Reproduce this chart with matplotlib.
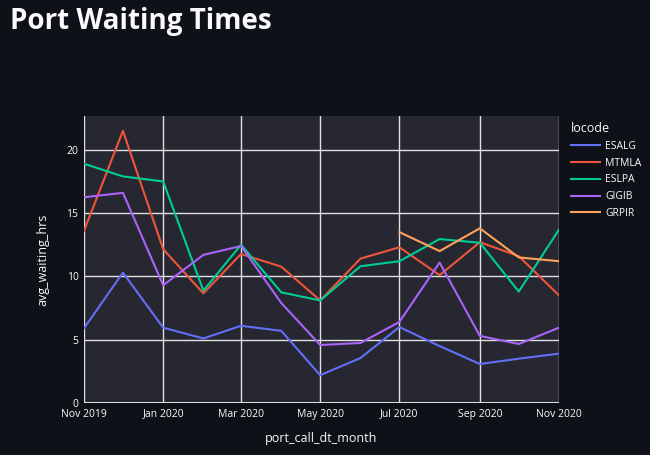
import matplotlib
matplotlib.use("Agg")
import matplotlib.pyplot as plt
import matplotlib.dates as mdates
import numpy as np
import datetime as dt

months = ["2019-11", "2019-12", "2020-01", "2020-02", "2020-03", "2020-04", "2020-05",
          "2020-06", "2020-07", "2020-08", "2020-09", "2020-10", "2020-11"]
esalg = [5.9, 10.3, 5.95, 5.1, 6.1, 5.7, 2.2, 3.55, 6.0, 4.5, 3.08, 3.5, 3.9]
mtmla = [13.6, 21.5, 12.15, 8.66, 11.77, 10.77, 8.1, 11.4, 12.3, 10.1, 12.7, 11.6, 8.5]
eslpa = [18.9, 17.9, 17.5, 8.87, 12.5, 8.74, 8.1, 10.8, 11.2, 12.95, 12.66, 8.8, 13.7]
gigib = [16.25, 16.6, 9.3, 11.7, 12.4, 7.9, 4.58, 4.74, 6.4, 11.1, 5.3, 4.66, 5.95]
grpir_months = ["2020-07", "2020-08", "2020-09", "2020-10", "2020-11"]
grpir = [13.5, 12.0, 13.8, 11.5, 11.2]

series = [("ESALG", months, esalg, "#636efa"),
          ("MTMLA", months, mtmla, "#EF553B"),
          ("ESLPA", months, eslpa, "#00cc96"),
          ("GIGIB", months, gigib, "#ab63fa"),
          ("GRPIR", grpir_months, grpir, "#FFA15A")]

def to_dates(ms):
    return [dt.datetime.strptime(m, "%Y-%m") for m in ms]

plt.rcParams['font.family'] = ['Open Sans', 'DejaVu Sans']
fig = plt.figure(figsize=(6.5, 4.55), dpi=100, facecolor="#0e1117")
ax = fig.add_axes([84/650, 52/455, 475/650, 287/455])
ax.set_facecolor("#262730")

for name, ms, vals, col in series:
    ax.plot(to_dates(ms), vals, color=col, lw=1.5, label=name, zorder=3)

ax.set_xlim(dt.datetime(2019, 11, 1), dt.datetime(2020, 11, 1))
ax.set_ylim(0, 22.67)
ax.set_yticks([0, 5, 10, 15, 20])
ax.xaxis.set_major_locator(mdates.MonthLocator(bymonth=[1, 3, 5, 7, 9, 11]))
ax.xaxis.set_major_formatter(mdates.DateFormatter("%b %Y"))
ax.grid(True, color="#ececec", lw=1.0, alpha=0.95, zorder=1)
ax.axhline(0, color="#f0f0f0", lw=2, zorder=2)
for s in ax.spines.values():
    s.set_visible(False)
ax.tick_params(axis="x", colors="#fafafa", labelsize=7.5, length=0, pad=4)
ax.tick_params(axis="y", colors="#fafafa", labelsize=7.5, length=0, pad=4)
for lbl in ax.get_xticklabels() + ax.get_yticklabels():
    lbl.set_color("#fafafa")
ax.set_xlabel("port_call_dt_month", color="#fafafa", fontsize=9, labelpad=9)
ax.set_ylabel("avg_waiting_hrs", color="#fafafa", fontsize=9, labelpad=12)

leg = ax.legend(loc="upper left", bbox_to_anchor=(1.012, 1.0), frameon=False,
                title="locode", fontsize=7.5, title_fontsize=9,
                handlelength=2.8, handletextpad=0.5, labelspacing=0.55,
                alignment="left", borderaxespad=0.2)
for t in leg.get_texts():
    t.set_color("#fafafa")
leg.get_title().set_color("#fafafa")

fig.text(10/650, 1 - 22/455, "Port Waiting Times", color="#fafafa", fontsize=20,
         fontweight="bold", va="center", ha="left")

fig.savefig("out.png", dpi=100, facecolor=fig.get_facecolor())
